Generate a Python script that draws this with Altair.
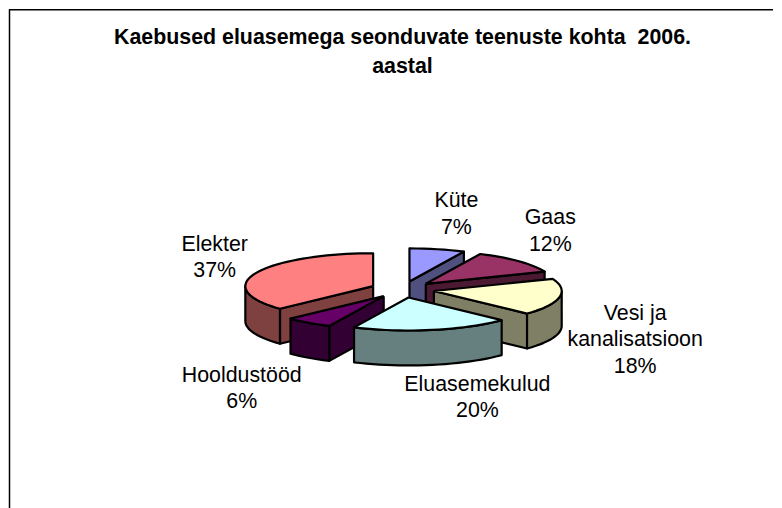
import math
import altair as alt
import pandas as pd

categories = ["Küte", "Gaas", "Vesi ja kanalisatsioon", "Eluasemekulud", "Hooldustööd", "Elekter"]
shares = [7, 12, 18, 20, 6, 37]
top_colors = ["#9999FF", "#993366", "#FFFFCC", "#CCFFFF", "#660066", "#FF8080"]
wall_colors = ["#50507F", "#4C1933", "#7F7F66", "#667F7F", "#330033", "#7F4040"]
draw_order = [0, 1, 5, 2, 4, 3]
title_lines = ["Kaebused eluasemega seonduvate teenuste kohta \u00a02006.", "aastal"]
label_lines = [["Küte"], ["Gaas"], ["Vesi ja", "kanalisatsioon"], ["Eluasemekulud"], ["Hooldustööd"], ["Elekter"]]
label_x = [457, 551, 636, 478, 242, 215]
label_y = [200, 217, 313, 384, 375, 244]

W, H = 766, 500
CX, CY, RX, RY, DEPTH, EXPLODE = 403, 288.5, 128, 33, 35, 0.25
LINE = 26.5

xs = alt.Scale(domain=[8, 8 + W], nice=False, zero=False)
ys = alt.Scale(domain=[8 + H, 8], nice=False, zero=False)


def poly(points, fill):
    pts = points + [points[0]]
    df = pd.DataFrame({"x": [p[0] for p in pts], "y": [p[1] for p in pts], "i": range(len(pts))})
    return alt.Chart(df).mark_line(fill=fill, stroke="black", strokeWidth=2.2, strokeJoin="round", clip=False).encode(
        x=alt.X("x:Q", scale=xs, axis=None),
        y=alt.Y("y:Q", scale=ys, axis=None),
        order="i:Q",
    )


starts = {}
acc = 0
for k, s in enumerate(shares):
    starts[k] = (acc, acc + s)
    acc += s


def pt(apex, deg, dz=0):
    r = math.radians(deg)
    return (apex[0] + RX * math.sin(r), apex[1] - RY * math.cos(r) + dz)


layers = []
for k in draw_order:
    a0, a1 = starts[k][0] * 3.6, starts[k][1] * 3.6
    mid = math.radians((a0 + a1) / 2)
    apex = (CX + EXPLODE * RX * math.sin(mid), CY - EXPLODE * RY * math.cos(mid))
    if a1 <= 180:
        e = pt(apex, a1)
        layers.append(poly([apex, e, (e[0], e[1] + DEPTH), (apex[0], apex[1] + DEPTH)], wall_colors[k]))
    if a0 >= 180:
        e = pt(apex, a0)
        layers.append(poly([apex, e, (e[0], e[1] + DEPTH), (apex[0], apex[1] + DEPTH)], wall_colors[k]))
    w0, w1 = max(a0, 90), min(a1, 270)
    if w1 > w0:
        n = max(4, int((w1 - w0) / 3))
        d = [w0 + (w1 - w0) * j / n for j in range(n + 1)]
        layers.append(poly([pt(apex, t) for t in d] + [pt(apex, t, DEPTH) for t in reversed(d)], wall_colors[k]))
    n = max(4, int((a1 - a0) / 3))
    layers.append(poly([apex] + [pt(apex, a0 + (a1 - a0) * j / n) for j in range(n + 1)], top_colors[k]))

rows = []
for k, lines in enumerate(label_lines):
    all_lines = lines + [f"{shares[k]}%"]
    for j, t in enumerate(all_lines):
        rows.append({"x": label_x[k], "y": label_y[k] + j * LINE, "t": t})
labels = alt.Chart(pd.DataFrame(rows)).mark_text(font="Liberation Sans", fontSize=21.4, color="black", align="center", baseline="middle").encode(
    x=alt.X("x:Q", scale=xs, axis=None), y=alt.Y("y:Q", scale=ys, axis=None), text="t:N")

title_df = pd.DataFrame({"x": [403, 403], "y": [37, 66], "t": title_lines})
title = alt.Chart(title_df).mark_text(font="Liberation Sans", fontSize=21.4, fontWeight="bold", color="black", align="center", baseline="middle").encode(
    x=alt.X("x:Q", scale=xs, axis=None), y=alt.Y("y:Q", scale=ys, axis=None), text="t:N")

top_rule = alt.Chart(pd.DataFrame({"x": [9], "x2": [774], "y": [8.5]})).mark_rule(color="black", strokeWidth=1.5).encode(
    x=alt.X("x:Q", scale=xs, axis=None), x2="x2:Q", y=alt.Y("y:Q", scale=ys, axis=None))
left_rule = alt.Chart(pd.DataFrame({"x": [9.5], "y": [8], "y2": [508]})).mark_rule(color="black", strokeWidth=1.5).encode(
    x=alt.X("x:Q", scale=xs, axis=None), y=alt.Y("y:Q", scale=ys, axis=None), y2="y2:Q")

chart = alt.layer(top_rule, left_rule, *layers, labels, title).properties(
    width=W, height=H, padding=0, background="white"
).configure_view(stroke=None)

chart.save("out.html", embed_options={"renderer": "svg", "actions": False})
